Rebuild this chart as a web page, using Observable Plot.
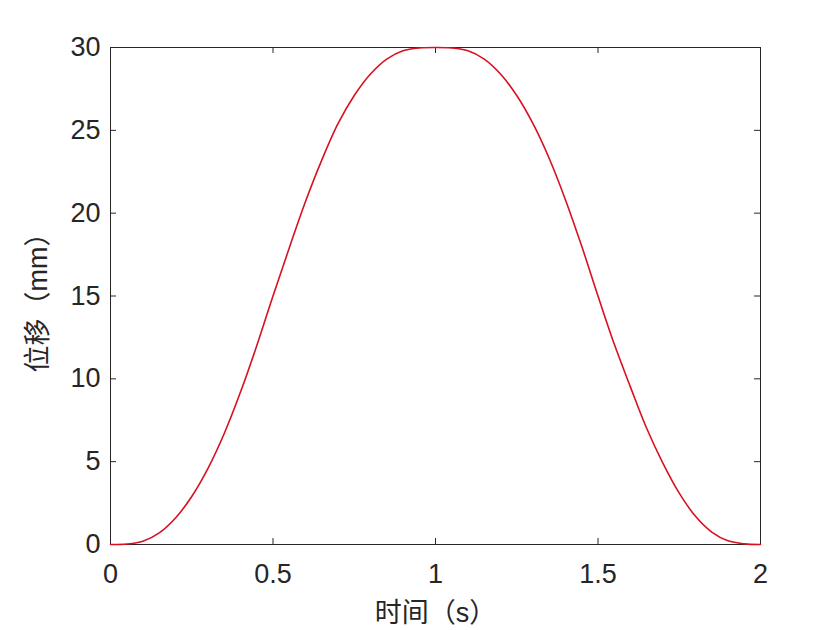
<!DOCTYPE html>
<html><head><meta charset="utf-8">
<script src="https://cdn.jsdelivr.net/npm/d3@7"></script>
<script src="https://cdn.jsdelivr.net/npm/@observablehq/plot@0.6"></script>
<style>body{margin:0;background:#fff}</style>
</head><body><div id="chart"></div>
<script>
const time = [0,0.05,0.1,0.15,0.2,0.25,0.3,0.35,0.4,0.45,0.5,0.55,0.6,0.65,0.7,0.75,0.8,0.85,0.9,0.95,1.0,
  1.05,1.1,1.15,1.2,1.25,1.3,1.35,1.4,1.45,1.5,1.55,1.6,1.65,1.7,1.75,1.8,1.85,1.9,1.95,2.0];
const displacement = [0,0.03,0.2,0.7,1.6,2.9,4.6,6.7,9.2,12.0,15.0,17.9,20.7,23.2,25.4,27.1,28.4,29.3,29.8,29.97,30,
  29.97,29.8,29.3,28.4,27.1,25.4,23.3,20.8,18.0,15.0,12.1,9.5,7.0,4.9,3.1,1.7,0.75,0.22,0.04,0];
const xTicks = [0,0.5,1,1.5,2];
const yTicks = [0,5,10,15,20,25,30];
const xLabel = "时间（s）";
const yLabel = "位移（mm）";

const data = time.map((t,i)=>({t, s: displacement[i]}));
const W=840,H=630, mL=110, mR=80, mT=47, mB=86;
const innerW = W-mL-mR, innerH = H-mT-mB;
const tick = 6;
const ink = "#262626";
const chart = Plot.plot({
  width:W, height:H, marginLeft:mL, marginRight:mR, marginTop:mT, marginBottom:mB,
  style:{fontFamily:"'Liberation Sans', Arial, 'Noto Sans CJK SC', sans-serif", color:ink, background:"#fff"},
  x:{domain:[0,2]}, y:{domain:[0,30]},
  marks:[
    Plot.frame({stroke:ink}),
    Plot.tickX(xTicks,{x:d=>d, insetTop: innerH - tick, stroke:ink}),
    Plot.tickX(xTicks,{x:d=>d, insetBottom: innerH - tick, stroke:ink}),
    Plot.tickY(yTicks,{y:d=>d, insetRight: innerW - tick, stroke:ink}),
    Plot.tickY(yTicks,{y:d=>d, insetLeft: innerW - tick, stroke:ink}),
    Plot.axisX(xTicks, {tickSize:0, tickPadding:19, fontSize:27, tickFormat:d=>String(d), label:xLabel, labelAnchor:"center", labelOffset:77, labelArrow:"none"}),
    Plot.axisY(yTicks, {tickSize:0, tickPadding:10, fontSize:27, tickFormat:d=>String(d), label:yLabel, labelAnchor:"center", labelOffset:83, labelArrow:"none"}),
    Plot.line(data,{x:"t",y:"s",stroke:"#d81020",strokeWidth:1.6,curve:"catmull-rom"})
  ]
});
document.getElementById("chart").append(chart);
</script>
</body></html>
